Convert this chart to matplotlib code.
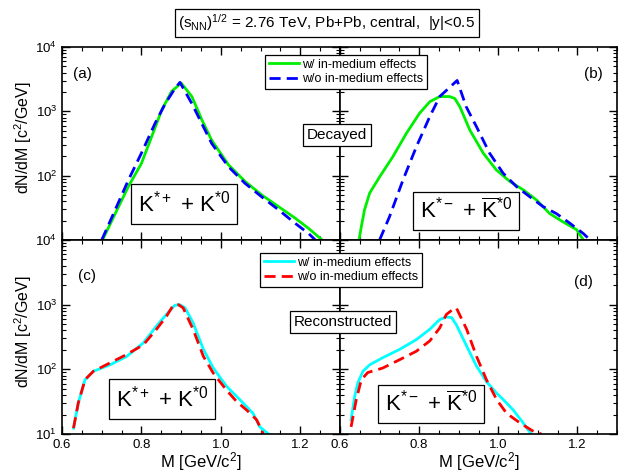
import numpy as np
import matplotlib.pyplot as plt
from matplotlib.ticker import FixedLocator, MultipleLocator, LogLocator, NullFormatter, FixedFormatter

plt.rcParams['font.family'] = ['Liberation Sans', 'DejaVu Sans']
plt.rcParams['mathtext.fontset'] = 'custom'
plt.rcParams['mathtext.rm'] = 'Liberation Sans'
plt.rcParams['mathtext.it'] = 'Liberation Sans:italic'
plt.rcParams['mathtext.bf'] = 'Liberation Sans:bold'

# (a) K*+ + K*0, decayed
m_a_with = [0.702, 0.734, 0.767, 0.800, 0.826, 0.851, 0.876, 0.900, 0.927, 0.952, 0.977,
            1.019, 1.061, 1.103, 1.145, 1.187, 1.221, 1.255]
lg_a_with = [1.00, 1.41, 1.83, 2.19, 2.61, 3.02, 3.31, 3.44, 3.23, 2.87, 2.55,
             2.17, 1.91, 1.70, 1.52, 1.34, 1.18, 1.00]
m_a_wo = [0.700, 0.734, 0.767, 0.800, 0.834, 0.860, 0.885, 0.897, 0.927, 0.952, 0.977,
          1.019, 1.061, 1.103, 1.145, 1.187, 1.221, 1.238]
lg_a_wo = [1.00, 1.47, 1.93, 2.35, 2.81, 3.12, 3.36, 3.45, 3.12, 2.81, 2.50,
           2.14, 1.88, 1.67, 1.47, 1.26, 1.10, 1.00]

# (b) K*- + anti-K*0, decayed
m_b_with = [0.648, 0.654, 0.662, 0.675, 0.700, 0.734, 0.768, 0.801, 0.827, 0.852, 0.877,
            0.890, 0.903, 0.928, 0.962, 0.995, 1.029, 1.063, 1.097, 1.130, 1.164, 1.198, 1.215]
lg_b_with = [1.00, 1.21, 1.47, 1.73, 1.98, 2.30, 2.66, 2.97, 3.15, 3.23, 3.23,
             3.20, 3.07, 2.71, 2.35, 2.09, 1.91, 1.78, 1.62, 1.41, 1.28, 1.16, 1.00]
m_b_wo = [0.700, 0.725, 0.759, 0.793, 0.827, 0.852, 0.896, 0.919, 0.945, 0.978, 1.012,
          1.046, 1.080, 1.113, 1.147, 1.181, 1.215, 1.232]
lg_b_wo = [1.00, 1.36, 1.93, 2.45, 2.92, 3.23, 3.48, 3.07, 2.76, 2.35, 2.04,
           1.83, 1.67, 1.52, 1.41, 1.26, 1.10, 1.00]

# (c) K*+ + K*0, reconstructed
m_c_with = [0.629, 0.641, 0.658, 0.679, 0.721, 0.763, 0.805, 0.838, 0.863, 0.884, 0.897,
            0.910, 0.930, 0.956, 0.981, 1.014, 1.048, 1.081, 1.098, 1.120]
lg_c_with = [1.09, 1.48, 1.84, 1.97, 2.07, 2.20, 2.41, 2.67, 2.85, 2.99, 3.00,
             2.95, 2.72, 2.31, 2.02, 1.74, 1.53, 1.32, 1.11, 1.00]
m_c_wo = [0.629, 0.641, 0.658, 0.679, 0.721, 0.763, 0.805, 0.838, 0.863, 0.880, 0.893,
          0.905, 0.930, 0.956, 0.981, 1.014, 1.040, 1.065, 1.090, 1.107]
lg_c_wo = [1.09, 1.48, 1.84, 1.97, 2.10, 2.23, 2.38, 2.62, 2.82, 2.99, 3.00,
           2.95, 2.62, 2.20, 1.94, 1.68, 1.50, 1.37, 1.22, 1.00]

# (d) K*- + anti-K*0, reconstructed
m_d_with = [0.628, 0.637, 0.645, 0.658, 0.675, 0.708, 0.751, 0.793, 0.827, 0.852, 0.869,
            0.882, 0.894, 0.920, 0.945, 0.970, 0.996, 1.013, 1.038, 1.063, 1.083]
lg_d_with = [1.22, 1.58, 1.79, 1.97, 2.07, 2.18, 2.31, 2.46, 2.62, 2.77, 2.81,
             2.80, 2.69, 2.36, 2.05, 1.81, 1.63, 1.53, 1.37, 1.17, 1.00]
m_d_wo = [0.628, 0.641, 0.654, 0.670, 0.708, 0.751, 0.793, 0.827, 0.852, 0.869, 0.886,
          0.894, 0.920, 0.945, 0.970, 0.996, 1.021, 1.055, 1.089, 1.109]
lg_d_wo = [1.11, 1.53, 1.84, 1.95, 2.02, 2.15, 2.28, 2.44, 2.64, 2.85, 2.93,
           2.95, 2.62, 2.20, 1.84, 1.53, 1.32, 1.17, 1.04, 1.00]

W, H = 623, 474
fig = plt.figure(figsize=(W / 100, H / 100), dpi=100)


def px(x, y):
    return x / W, 1 - y / H


ax_a = fig.add_axes([62 / W, 1 - 240 / H, 278 / W, 193 / H])
ax_b = fig.add_axes([340 / W, 1 - 240 / H, 277 / W, 193 / H])
ax_c = fig.add_axes([62 / W, 1 - 434 / H, 278 / W, 194 / H])
ax_d = fig.add_axes([340 / W, 1 - 434 / H, 277 / W, 194 / H])

lw = 2.0
dash = (0, (4, 2.2))
la1, = ax_a.plot(m_a_with, 10 ** np.array(lg_a_with), color='#00ee00', lw=lw)
la2, = ax_a.plot(m_a_wo, 10 ** np.array(lg_a_wo), color='#0000ff', lw=lw, ls=dash)
ax_b.plot(m_b_with, 10 ** np.array(lg_b_with), color='#00ee00', lw=lw)
ax_b.plot(m_b_wo, 10 ** np.array(lg_b_wo), color='#0000ff', lw=lw, ls=dash)
lc1, = ax_c.plot(m_c_with, 10 ** np.array(lg_c_with), color='#00ffff', lw=lw)
lc2, = ax_c.plot(m_c_wo, 10 ** np.array(lg_c_wo), color='#ff0000', lw=lw, ls=dash)
ax_d.plot(m_d_with, 10 ** np.array(lg_d_with), color='#00ffff', lw=lw)
ax_d.plot(m_d_wo, 10 ** np.array(lg_d_wo), color='#ff0000', lw=lw, ls=dash)

for ax in (ax_a, ax_b, ax_c, ax_d):
    ax.set_yscale('log')
    ax.set_xlim(0.6, 1.3)
    ax.set_ylim(10, 1e4)
    ax.xaxis.set_major_locator(MultipleLocator(0.2))
    ax.xaxis.set_minor_locator(MultipleLocator(0.05))
    ax.yaxis.set_major_locator(LogLocator(base=10, numticks=10))
    ax.yaxis.set_minor_locator(LogLocator(base=10, subs=np.arange(2, 10), numticks=10))
    ax.yaxis.set_minor_formatter(NullFormatter())
    ax.tick_params(which='both', direction='in', top=True, right=True, labelsize=9.5)
    ax.tick_params(which='major', length=6, width=1)
    ax.tick_params(which='minor', length=3, width=0.8)
    for s in ax.spines.values():
        s.set_linewidth(1.2)

for ax in (ax_a, ax_b):
    ax.tick_params(labelbottom=False)
for ax in (ax_b, ax_d):
    ax.tick_params(labelleft=False)

ax_a.yaxis.set_major_locator(FixedLocator([10, 100, 1000, 10000]))
ax_a.yaxis.set_major_formatter(FixedFormatter(['', '$10^2$', '$10^3$', '$10^4$']))
for ax in (ax_c, ax_d):
    ax.xaxis.set_major_locator(FixedLocator([0.6, 0.8, 1.0, 1.2]))
    ax.xaxis.set_major_formatter(FixedFormatter(['0.6', '0.8', '1.0', '1.2']))

for ax in (ax_a, ax_c):
    ax.set_ylabel('dN/dM [c$^2$/GeV]', fontsize=11.5)
    ax.yaxis.label.set_va('center')
    ax.yaxis.set_label_coords(-39 / 278, 0.53)
for ax in (ax_c, ax_d):
    ax.set_xlabel('M [GeV/c$^2$]', fontsize=12)
    ax.xaxis.label.set_va('center')
    ax.xaxis.set_label_coords(0.5, -28 / 194)

box = dict(boxstyle='square,pad=0.25', fc='white', ec='black', lw=0.9)

fig.text(*px(327, 23), '(s$_{\\mathrm{NN}}$)$^{1/2}$ = 2.76 TeV, Pb+Pb, central,  |y|<0.5',
         ha='center', va='center', fontsize=11, bbox=box)

fig.text(*px(337, 135), 'Decayed', ha='center', va='center', fontsize=11, bbox=box)
fig.text(*px(343, 322), 'Reconstructed', ha='center', va='center', fontsize=11, bbox=box)

big = dict(boxstyle='square,pad=0.3', fc='white', ec='black', lw=0.9)
fig.text(*px(184, 204), 'K$^{*+}$ + K$^{*0}$', ha='center', va='center', fontsize=16, bbox=big)
fig.text(*px(466, 211), 'K$^{*-}$ + $\\overline{\\mathrm{K}}^{*0}$', ha='center', va='center',
         fontsize=16, bbox=big)
fig.text(*px(162, 399), 'K$^{*+}$ + K$^{*0}$', ha='center', va='center', fontsize=16, bbox=big)
fig.text(*px(431, 404), 'K$^{*-}$ + $\\overline{\\mathrm{K}}^{*0}$', ha='center', va='center',
         fontsize=16, bbox=big)

fig.text(*px(73, 74), '(a)', ha='left', va='center', fontsize=11)
fig.text(*px(603, 74), '(b)', ha='right', va='center', fontsize=11)
fig.text(*px(78, 276), '(c)', ha='left', va='center', fontsize=11)
fig.text(*px(593, 282), '(d)', ha='right', va='center', fontsize=11)

leg_kw = dict(loc='upper left', fontsize=9, frameon=True, fancybox=False, edgecolor='black',
              framealpha=1, handlelength=2.4, handletextpad=0.3, borderpad=0.3,
              labelspacing=0.2, borderaxespad=0)
l1 = fig.legend([la1, la2], ['w/ in-medium effects', 'w/o in-medium effects'],
                bbox_to_anchor=px(265, 55), **leg_kw)
l1.get_frame().set_linewidth(0.9)
l2 = fig.legend([lc1, lc2], ['w/ in-medium effects', 'w/o in-medium effects'],
                bbox_to_anchor=px(260, 253), **leg_kw)
l2.get_frame().set_linewidth(0.9)

plt.savefig('out.png', dpi=100)
